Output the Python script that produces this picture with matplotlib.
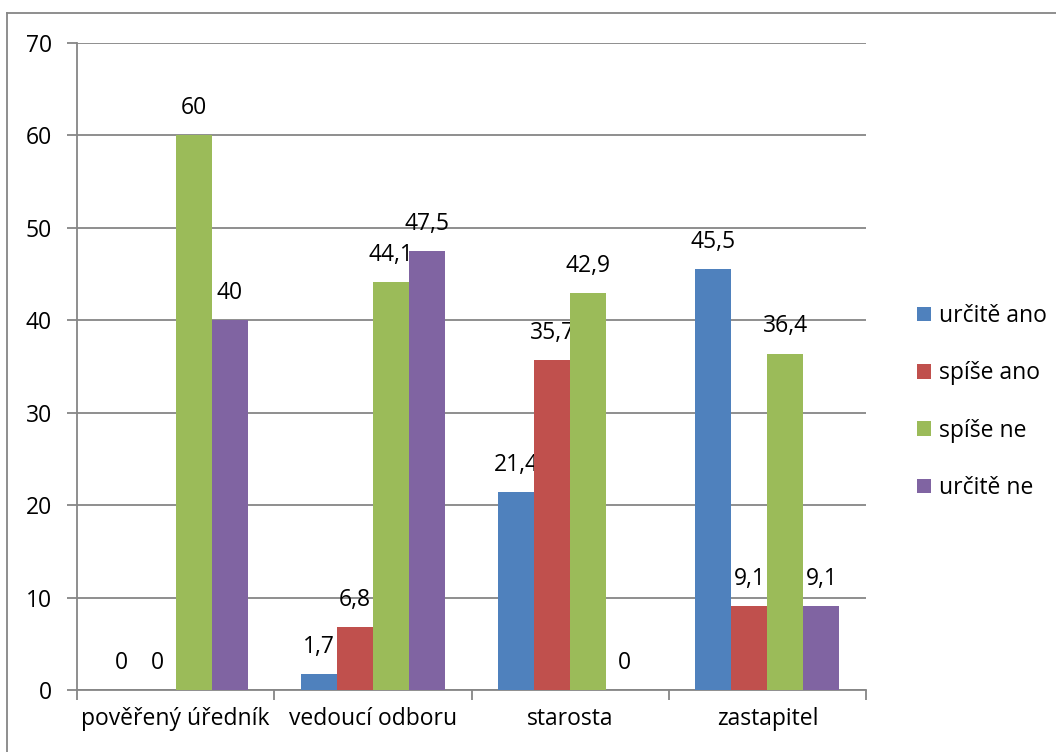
import matplotlib.pyplot as plt
from matplotlib.lines import Line2D
import numpy as np

plt.rcParams['font.family'] = ['Open Sans', 'DejaVu Sans']

categories = ['pověřený úředník', 'vedoucí odboru', 'starosta', 'zastapitel']
series_names = ['určitě ano', 'spíše ano', 'spíše ne', 'určitě ne']
values = {
    'určitě ano': [0, 1.7, 21.4, 45.5],
    'spíše ano': [0, 6.8, 35.7, 9.1],
    'spíše ne': [60, 44.1, 42.9, 36.4],
    'určitě ne': [40, 47.5, 0, 9.1],
}
colors = ['#4F81BD', '#C0504D', '#9BBB59', '#8064A2']
grid_color = '#868686'
fs = 16.5

fig = plt.figure(figsize=(10.56, 7.52), dpi=100)
ax = fig.add_axes([77 / 1056, 1 - 690 / 752, 789 / 1056, 647 / 752])

x = np.arange(len(categories))
bw = 0.1827
for i, (name, col) in enumerate(zip(series_names, colors)):
    pos = x + (i - 1.5) * bw
    bars = ax.bar(pos, values[name], bw, color=col, label=name, zorder=3)
    for b, v in zip(bars, values[name]):
        ax.annotate(('%g' % v).replace('.', ','), (b.get_x() + b.get_width() / 2, v),
                    xytext=(0, 11), textcoords='offset points', ha='center', va='bottom',
                    fontsize=fs, color='black')

ax.set_xlim(-0.5, len(categories) - 0.5)
ax.set_ylim(0, 70)
ax.set_yticks(range(0, 71, 10))
ax.yaxis.grid(True, color=grid_color, linewidth=1.3, zorder=0)
ax.set_xticks(x)
ax.set_xticklabels(categories)
ax.set_xticks(np.arange(-0.5, len(categories)), minor=True)
ax.tick_params(axis='x', which='major', length=0, pad=12, labelsize=fs)
ax.tick_params(axis='x', which='minor', length=7, width=1.3, color=grid_color)
ax.tick_params(axis='y', length=7, width=1.3, color=grid_color, pad=11, labelsize=fs)
for s in ['top', 'right']:
    ax.spines[s].set_visible(False)
for s in ['left', 'bottom']:
    ax.spines[s].set_color(grid_color)
    ax.spines[s].set_linewidth(1.3)

leg = ax.legend(loc='center left', bbox_to_anchor=(1.039, 0.445), frameon=False,
                fontsize=fs, handlelength=0.6, handleheight=0.6,
                handletextpad=0.35, labelspacing=1.45)

fig.add_artist(Line2D([7 / 1056, 7 / 1056], [1 - 13 / 752, -0.1], color=grid_color, linewidth=1.3))
fig.add_artist(Line2D([7 / 1056, 1.1], [1 - 13 / 752, 1 - 13 / 752], color=grid_color, linewidth=1.3))

fig.savefig('out.png', dpi=100)
